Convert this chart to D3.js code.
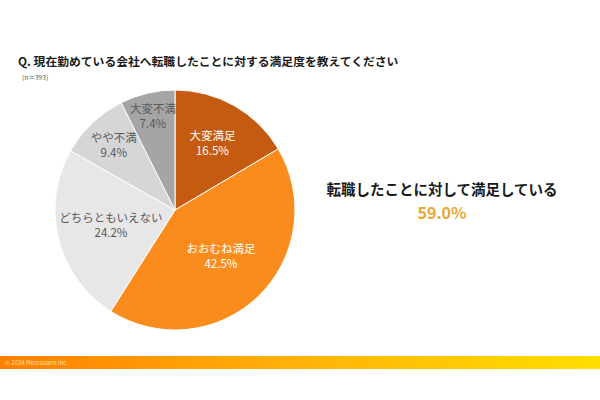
<!DOCTYPE html>
<html><head><meta charset="utf-8">
<script src="https://cdn.jsdelivr.net/npm/d3@7"></script>
<style>html,body{margin:0;padding:0;background:#fff;}</style>
</head><body>
<svg id="c" width="600" height="400"></svg>
<script>
const categories = ["大変満足","おおむね満足","どちらともいえない","やや不満","大変不満"];
const values = [16.5, 42.5, 24.2, 9.4, 7.4];
const title = "Q. 現在勤めている会社へ転職したことに対する満足度を教えてください";
const sampleNote = "（n＝393）";
const summaryLabel = "転職したことに対して満足している";
const summaryValue = 59.0;
const footerText = "© 2024 Mercuvaire Inc.";

const colors = ["#C55A11","#FA8C1E","#E7E7E7","#D6D6D6","#A5A5A5"];
const textColors = ["#fff","#fff","#595959","#595959","#595959"];
const labelR = [0.63, 0.55, 0.55, 0.74, 0.8];
const font = "'Noto Sans CJK JP','Noto Sans',sans-serif";

const svg = d3.select("#c");
const defs = svg.append("defs");
const g = defs.append("linearGradient").attr("id","ft").attr("x1","0").attr("x2","1");
g.append("stop").attr("offset","0").attr("stop-color","#FF7F00");
g.append("stop").attr("offset","0.45").attr("stop-color","#FFAE0A");
g.append("stop").attr("offset","1").attr("stop-color","#FFDF00");

svg.append("text").attr("x",18).attr("y",66).attr("font-family",font).attr("font-weight","bold")
  .attr("font-size",11.8).attr("fill","#1a1a1a").text(title);
svg.append("text").attr("x",18).attr("y",80).attr("font-family",font)
  .attr("font-size",6.5).attr("fill","#555").text(sampleNote);

const cx = 175, cy = 210, r = 120;
const pie = d3.pie().sort(null).value(d => d)(values);
const arc = d3.arc().innerRadius(0).outerRadius(r);
const pg = svg.append("g").attr("transform",`translate(${cx},${cy})`);
pg.selectAll("path").data(pie).join("path").attr("d",arc)
  .attr("fill",(d,i)=>colors[i]).attr("stroke","#fff").attr("stroke-width",1);

pie.forEach((d,i)=>{
  const a = (d.startAngle+d.endAngle)/2;
  const lr = r*labelR[i];
  const x = Math.sin(a)*lr, y = -Math.cos(a)*lr;
  pg.append("text").attr("x",x).attr("y",y-4).attr("text-anchor","middle").attr("font-family",font)
    .attr("font-size",11.5).attr("fill",textColors[i]).text(categories[i]);
  pg.append("text").attr("x",x).attr("y",y+11).attr("text-anchor","middle").attr("font-family",font)
    .attr("font-size",11.5).attr("fill",textColors[i]).text(d3.format(".1f")(values[i])+"%");
});

svg.append("text").attr("x",442).attr("y",195).attr("text-anchor","middle").attr("font-family",font)
  .attr("font-weight","bold").attr("font-size",14.5).attr("fill","#1a1a1a").text(summaryLabel);
svg.append("text").attr("x",442).attr("y",219).attr("text-anchor","middle").attr("font-family",font)
  .attr("font-weight","bold").attr("font-size",16).attr("fill","#EDA532").text(d3.format(".1f")(summaryValue)+"%");

svg.append("rect").attr("x",0).attr("y",356).attr("width",600).attr("height",13).attr("fill","url(#ft)");
svg.append("text").attr("x",5).attr("y",365).attr("font-family",font)
  .attr("font-size",6).attr("fill","#FFE0B0").text(footerText);
</script>
</body></html>
